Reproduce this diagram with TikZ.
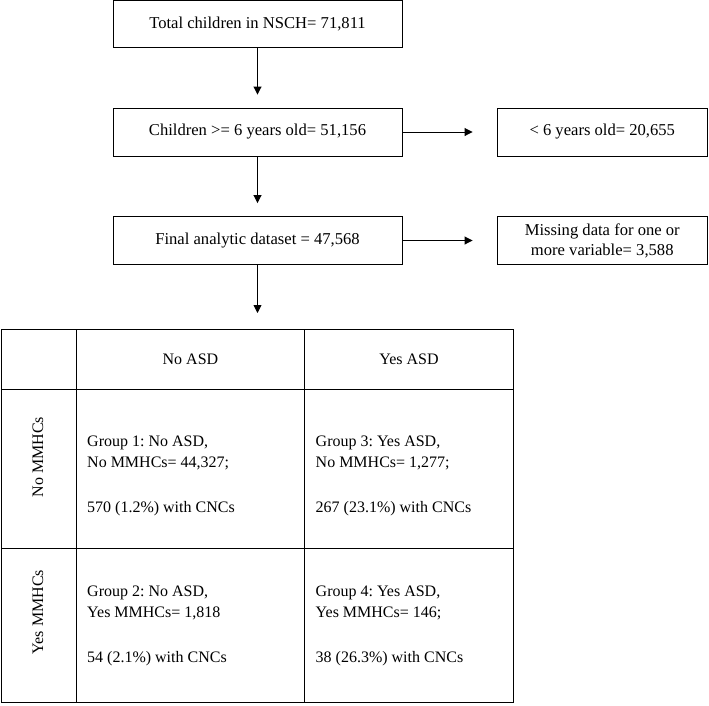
\documentclass[tikz,border=0pt]{standalone}
\usepackage{fontspec}
\setmainfont{Liberation Serif}
\frenchspacing
\usetikzlibrary{arrows.meta}
\begin{document}
\begin{tikzpicture}[x=1pt,y=-1pt,
  every node/.style={font=\fontsize{16}{21}\selectfont\frenchspacing, inner sep=0pt},
  boxfont/.style={font=\fontsize{16.6}{20}\selectfont\frenchspacing},
  mainbox/.style={draw, boxfont, line width=0.9pt, minimum width=289pt, minimum height=48pt},
  sidebox/.style={draw, boxfont, line width=0.9pt, minimum width=210.5pt, minimum height=48pt, align=center},
  cell/.style={draw, line width=0.9pt, anchor=north west},
  celltext/.style={anchor=west, align=left},
  arr/.style={-{Triangle[length=8pt,width=8pt]}, line width=0.9pt},
]
\useasboundingbox (0,0) rectangle (709,705);
% flow boxes
\node[mainbox, minimum height=47pt] (b1) at (257.5,24.3) {Total children in NSCH= 71,811};
\node[mainbox] (b2) at (257.5,132) {Children >= 6 years old= 51,156};
\node[sidebox] (b3) at (602.25,132) {< 6 years old= 20,655};
\node[mainbox] (b4) at (257.5,240.5) {Final analytic dataset = 47,568};
\node[sidebox] (b5) at (602.25,240.5) {Missing data for one or\\more variable= 3,588};
% table
\node[cell, minimum width=75.5pt, minimum height=60pt] (corner) at (0.5,329) {};
\node[cell, minimum width=228pt, minimum height=60pt] (hA) at (76,329) {No ASD};
\node[cell, minimum width=209pt, minimum height=60pt] (hB) at (304,329) {Yes ASD};
\node[cell, minimum width=75.5pt, minimum height=159pt] (r1) at (0.5,389) {};
\node[cell, minimum width=228pt, minimum height=159pt] (c11) at (76,389) {};
\node[cell, minimum width=209pt, minimum height=159pt] (c12) at (304,389) {};
\node[cell, minimum width=75.5pt, minimum height=154pt] (r2) at (0.5,548) {};
\node[cell, minimum width=228pt, minimum height=154pt] (c21) at (76,548) {};
\node[cell, minimum width=209pt, minimum height=154pt] (c22) at (304,548) {};
\node[celltext] (t11) at (87,476)
  {Group 1: No ASD,\\No MMHCs= 44,327;\\[24pt]570 (1.2\%) with CNCs};
\node[celltext] (t12) at (315.5,476)
  {Group 3: Yes ASD,\\No MMHCs= 1,277;\\[24pt]267 (23.1\%) with CNCs};
\node[celltext] (t21) at (87,626)
  {Group 2: No ASD,\\Yes MMHCs= 1,818\\[24pt]54 (2.1\%) with CNCs};
\node[celltext] (t22) at (315.5,626)
  {Group 4: Yes ASD,\\Yes MMHCs= 146;\\[24pt]38 (26.3\%) with CNCs};
\node[rotate=90] (l1) at (38,457) {No MMHCs};
\node[rotate=90] (l2) at (38,612) {Yes MMHCs};
\coordinate (tt) at (257.5,329);
% connectors
\draw[arr, shorten >=13pt] (b1) -- (b2);
\draw[arr, shorten >=24pt] (b2) -- (b3);
\draw[arr, shorten >=13pt] (b2) -- (b4);
\draw[arr, shorten >=24pt] (b4) -- (b5);
\draw[arr, shorten >=16pt] (b4) -- (tt);
\end{tikzpicture}
\end{document}
